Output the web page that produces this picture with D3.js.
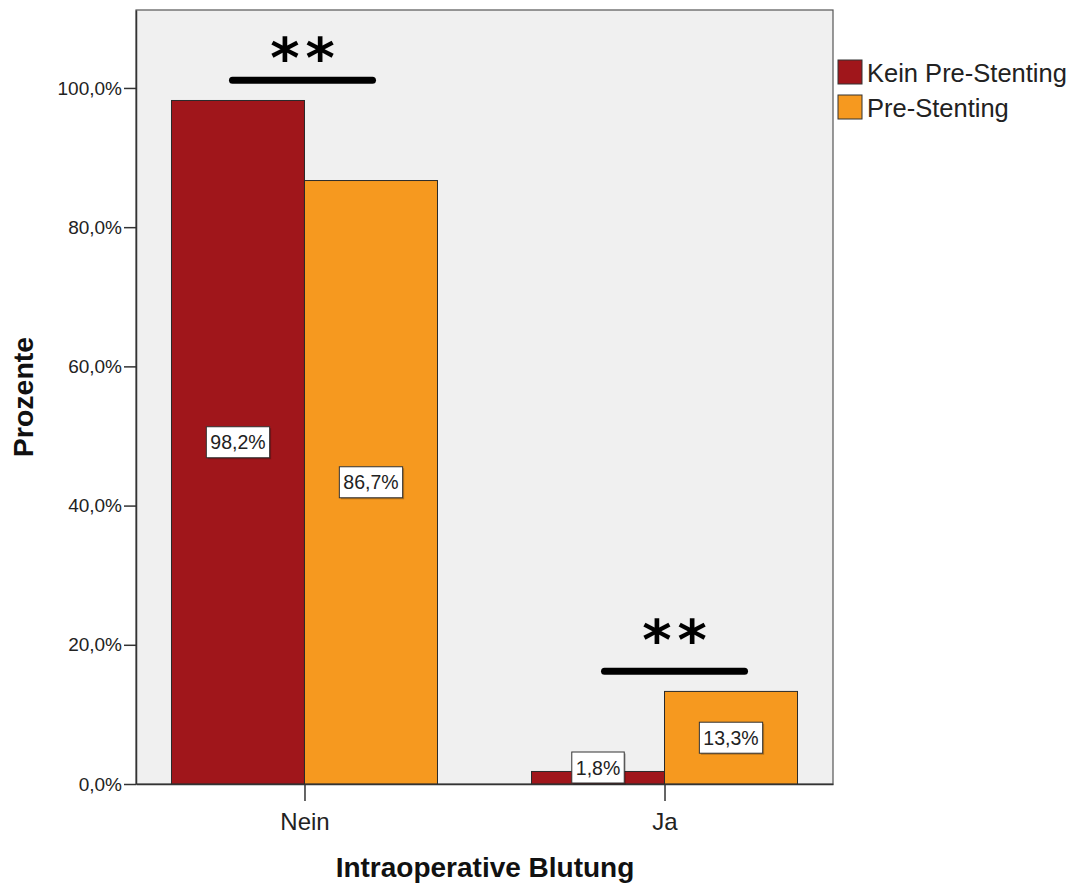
<!DOCTYPE html>
<html><head><meta charset="utf-8">
<script src="https://cdn.jsdelivr.net/npm/d3@7"></script>
<style>body{margin:0;background:#fff;} svg{display:block;}</style>
</head><body>
<svg id="chart" width="1078" height="885"></svg>
<script>
const categories = ["Nein", "Ja"];
const seriesNames = ["Kein Pre-Stenting", "Pre-Stenting"];
const keinPreStenting = [98.2, 1.8];
const preStenting = [86.7, 13.3];
const yTicks = [0, 20, 40, 60, 80, 100];
const sigLabels = ["**", "**"];
const sigLineLevel = [101.1, 16.2];
const sigStarLevel = [106.6, 22.9];
const colors = ["#a0161b", "#f6991f"];
// layout nudges for the hand-placed significance marks (pixels)
const sigShift = [-2, 10];

const svg = d3.select("#chart");
const plot = {left: 136, right: 833, top: 10, bottom: 784};
const font = "Arial, 'Liberation Sans', sans-serif";

const x = d3.scalePoint().domain(categories).range([plot.left, plot.right]).padding(0.468);
const y = d3.scaleLinear().domain([0, 111.2]).range([plot.bottom, plot.top]);
const barW = 133;
const xs = d3.scaleBand().domain(seriesNames).range([-barW, barW]).padding(0);

svg.append("rect").attr("x", plot.left).attr("y", plot.top)
  .attr("width", plot.right - plot.left).attr("height", plot.bottom - plot.top)
  .attr("fill", "#f0f0f0").attr("stroke", "#555").attr("stroke-width", 1.2);

const series = [keinPreStenting, preStenting];
const data = [];
categories.forEach((c, i) => series.forEach((s, j) => data.push({cat: c, ser: seriesNames[j], v: s[i], j})));

svg.append("g").selectAll("rect").data(data).join("rect")
  .attr("x", d => x(d.cat) + xs(d.ser))
  .attr("y", d => y(d.v))
  .attr("width", xs.bandwidth())
  .attr("height", d => y(0) - y(d.v))
  .attr("fill", d => colors[d.j])
  .attr("stroke", "#2a2a2a").attr("stroke-width", 1);

const yAxis = d3.axisLeft(y).tickValues(yTicks).tickSize(12).tickSizeOuter(0).tickPadding(2)
  .tickFormat(d => d3.format(".1f")(d).replace(".", ",") + "%");
const gy = svg.append("g").attr("transform", `translate(${plot.left},0)`).call(yAxis);
gy.select(".domain").attr("stroke", "#333").attr("stroke-width", 1.5);
gy.selectAll(".tick line").attr("stroke", "#333").attr("stroke-width", 1.5);
gy.selectAll(".tick text").attr("font-family", font).attr("font-size", 19).attr("fill", "#222");

const xAxis = d3.axisBottom(x).tickSize(17).tickSizeOuter(0).tickPadding(10);
const gx = svg.append("g").attr("transform", `translate(0,${plot.bottom})`).call(xAxis);
gx.select(".domain").attr("stroke", "#333").attr("stroke-width", 1.5);
gx.selectAll(".tick line").attr("stroke", "#333").attr("stroke-width", 1.5);
gx.selectAll(".tick text").attr("font-family", font).attr("font-size", 24).attr("fill", "#222")
  .attr("dy", "0.35em").attr("y", 38);

const lblG = svg.append("g");
data.forEach(d => {
  const txt = d3.format(".1f")(d.v).replace(".", ",") + "%";
  const cx = x(d.cat) + xs(d.ser) + xs.bandwidth() / 2;
  const bh = 31;
  let cy = (y(d.v) + y(0)) / 2;
  cy = Math.min(cy, y(0) - bh / 2 - 1);
  const t = lblG.append("text").attr("x", cx).attr("y", cy).attr("dy", "0.36em")
    .attr("text-anchor", "middle").attr("font-family", font).attr("font-size", 19.5).attr("fill", "#222").text(txt);
  const tw = t.node().getComputedTextLength();
  const bw = tw + 8;
  lblG.insert("rect", () => t.node())
    .attr("x", cx - bw / 2 + 1.5).attr("y", cy - bh / 2 + 1.5).attr("width", bw).attr("height", bh)
    .attr("fill", "rgba(0,0,0,0.25)");
  lblG.insert("rect", () => t.node())
    .attr("x", cx - bw / 2).attr("y", cy - bh / 2).attr("width", bw).attr("height", bh)
    .attr("fill", "#fff").attr("stroke", "#333").attr("stroke-width", 1);
});

categories.forEach((c, i) => {
  const ly = y(sigLineLevel[i]);
  const cx = x(c) + sigShift[i];
  svg.append("line").attr("x1", cx - 70).attr("x2", cx + 70)
    .attr("y1", ly).attr("y2", ly).attr("stroke", "#000").attr("stroke-width", 7).attr("stroke-linecap", "round");
  svg.append("text").attr("x", cx + 3).attr("y", y(sigStarLevel[i])).attr("dy", "0.62em")
    .attr("text-anchor", "middle").attr("font-family", "'DejaVu Sans', sans-serif").attr("font-weight", "bold")
    .attr("font-size", 56).attr("letter-spacing", 6).attr("fill", "#000").text(sigLabels[i]);
});

svg.append("text").attr("x", 485).attr("y", 877).attr("text-anchor", "middle")
  .attr("font-family", font).attr("font-weight", "bold").attr("font-size", 28).attr("fill", "#111")
  .text("Intraoperative Blutung");
svg.append("text").attr("transform", "translate(33,397) rotate(-90)").attr("text-anchor", "middle")
  .attr("font-family", font).attr("font-weight", "bold").attr("font-size", 28.5).attr("fill", "#111")
  .text("Prozente");

const lg = svg.append("g");
seriesNames.forEach((s, i) => {
  const yy = 60 + i * 35;
  lg.append("rect").attr("x", 838).attr("y", yy).attr("width", 24).attr("height", 24)
    .attr("fill", colors[i]).attr("stroke", "#333").attr("stroke-width", 1);
  lg.append("text").attr("x", 867).attr("y", yy + 13).attr("dy", "0.36em")
    .attr("font-family", font).attr("font-size", 25.5).attr("fill", "#222").text(s);
});
</script>
</body></html>
